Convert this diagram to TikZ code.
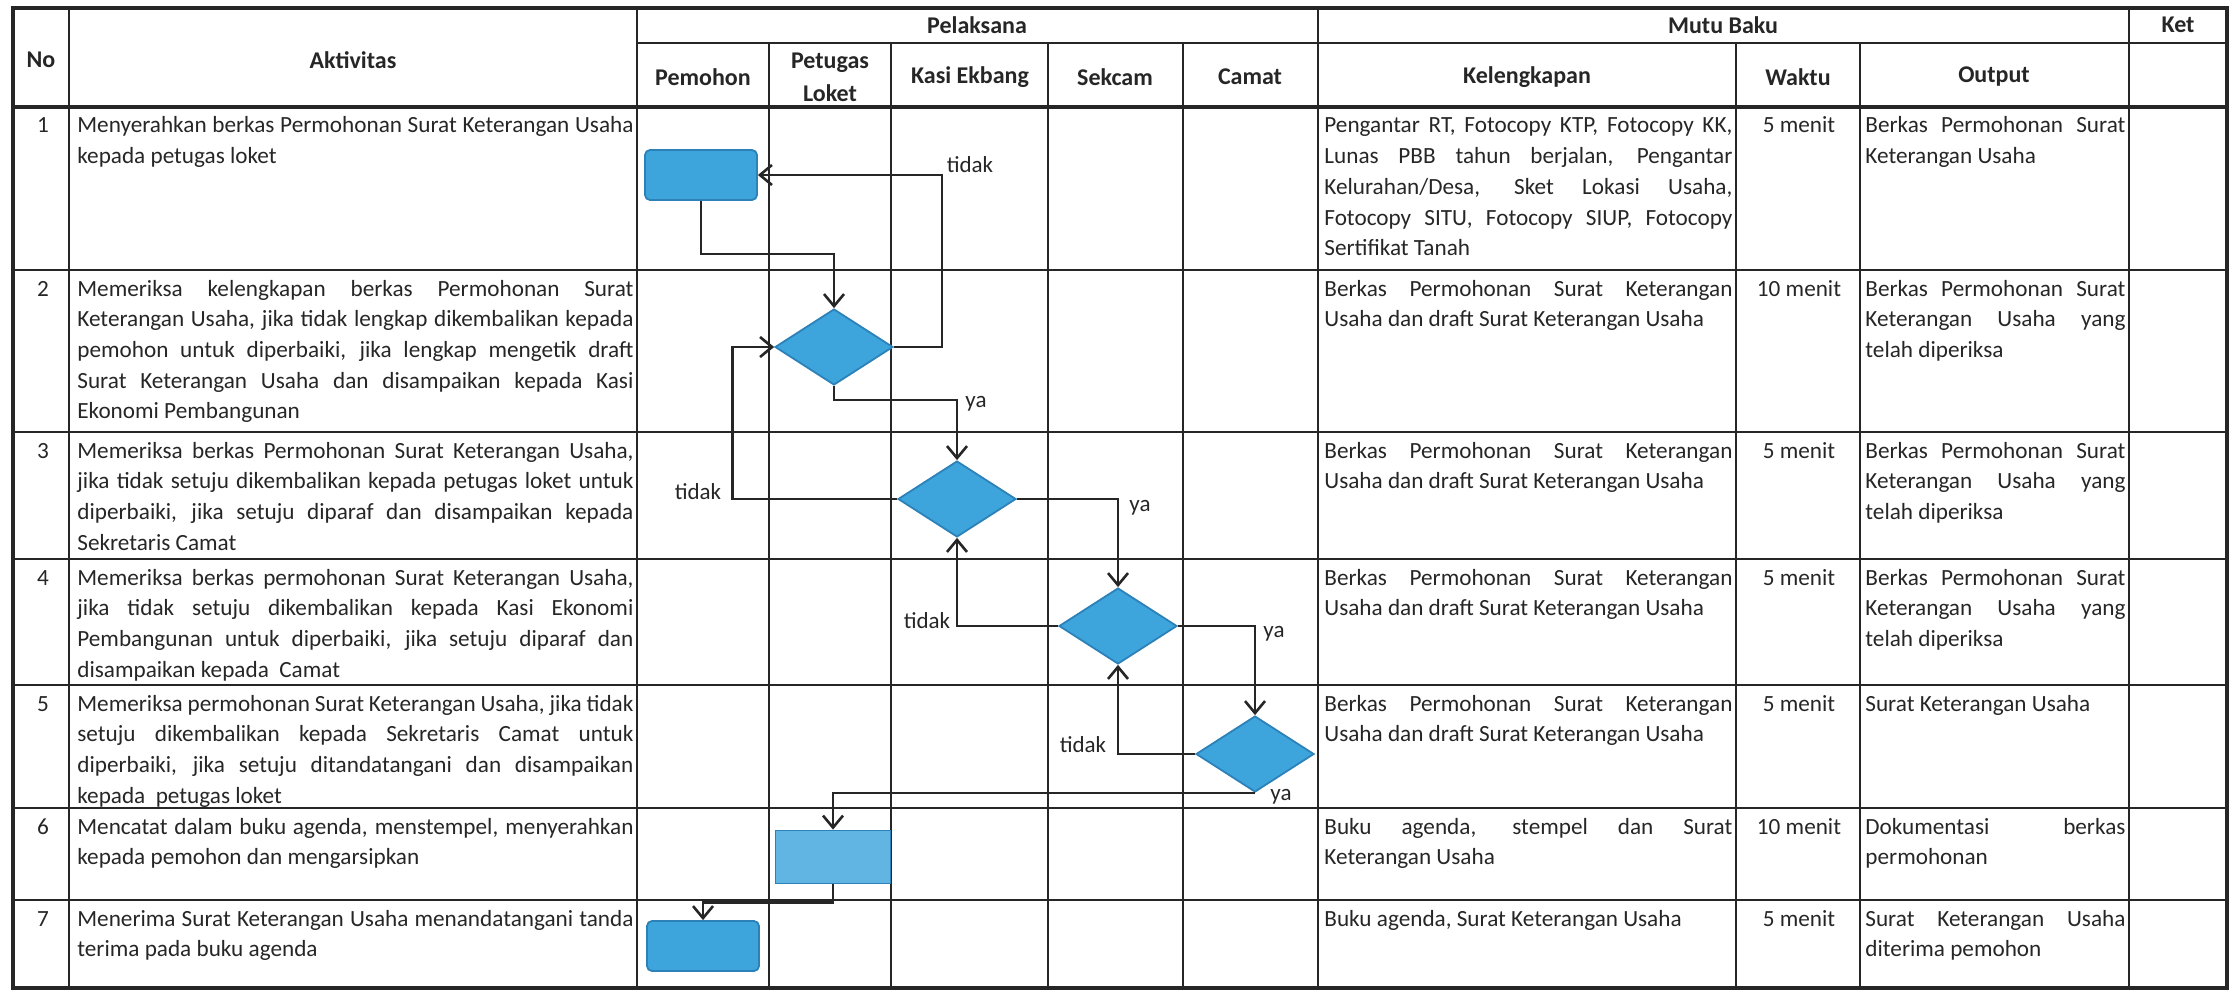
\documentclass[tikz,border=0pt]{standalone}
\usepackage{fontspec}
\setmainfont{Carlito}
\usetikzlibrary{shapes.geometric,arrows.meta}

\definecolor{flowblue}{HTML}{3DA5DC}
\definecolor{flowedge}{HTML}{2C82B8}
\definecolor{gridline}{HTML}{262626}

\tikzset{
  grid/.style={draw=gridline, line width=1.25pt},
  proc/.style={draw=flowedge, fill=flowblue, line width=0.9pt, inner sep=0pt,
    minimum width=56pt, minimum height=25pt, rounded corners=2.5pt},
  dec/.style={diamond, draw=flowedge, fill=flowblue, line width=0.9pt, inner sep=0pt,
    minimum width=59pt, minimum height=38pt},
  flow/.style={draw=gridline, line width=1.4pt},
  tip/.style={flow, -{Straight Barb[length=6pt,width=10pt,line width=1.3pt]}},
  lbl/.style={font=\fontsize{11.5}{14}\selectfont, text=gridline, inner sep=0pt},
  hdr/.style={font=\fontsize{12}{16.5}\selectfont\bfseries, align=center, text=gridline},
  cell/.style={anchor=base west, inner sep=0pt, align=justify, text=gridline,
    font=\fontsize{11.6}{15.35}\selectfont},
}

\begin{document}
\begin{tikzpicture}[x=0.5pt, y=-0.5pt]
\useasboundingbox (0,0) rectangle (2233,990);

    % tabel
    \foreach \x in {69,637,1318,2129}
        \draw[grid] (\x,8) -- (\x,988);
    \foreach \x in {769,891,1048,1183,1736,1860}
        \draw[grid] (\x,43) -- (\x,988);
    \draw[grid] (637,43) -- (2227,43);
    \foreach \y in {270,432,559,685,808,900}
        \draw[grid] (13,\y) -- (2227,\y);
    \draw[grid, line width=1.9pt] (13,107) -- (2227,107);
    \draw[grid, line width=1.9pt] (13,8) rectangle (2227,988);

    % kepala tabel
    \node[hdr] (hNo) at (41,60) {No};
    \node[hdr] (hAkt) at (353,60) {Aktivitas};
    \node[hdr] (hPel) at (977,25) {Pelaksana};
    \node[hdr] (hMutu) at (1723,25) {Mutu Baku};
    \node[hdr] (hKet) at (2178,25) {Ket};
    \node[hdr] (hPemohon) at (703,77) {Pemohon};
    \node[hdr] (hLoket) at (830,77) {Petugas\\Loket};
    \node[hdr] (hKasi) at (970,77) {Kasi Ekbang};
    \node[hdr] (hSekcam) at (1115,77) {Sekcam};
    \node[hdr] (hCamat) at (1250,77) {Camat};
    \node[hdr] (hKel) at (1527,77) {Kelengkapan};
    \node[hdr] (hWaktu) at (1798,77) {Waktu};
    \node[hdr] (hOutput) at (1994,77) {Output};

    % nomor dan waktu
    \foreach \n/\y/\w in {1/107/5 menit,2/270/10 menit,3/432/5 menit,4/559/5 menit,
                          5/685/5 menit,6/808/10 menit,7/900/5 menit} {
        \node[cell, anchor=base] (no\n) at (43,\y+26) {\n};
        \node[cell, anchor=base] (w\n) at (1799,\y+26) {\w};
    }

    % aktivitas
    \node[cell, text width=278pt] (a1) at (77,133) {Menyerahkan berkas Permohonan Surat Keterangan Usaha\linebreak kepada petugas loket};
    \node[cell, text width=278pt] (a2) at (77,296) {Memeriksa kelengkapan berkas Permohonan Surat\linebreak Keterangan Usaha, jika tidak lengkap dikembalikan kepada\linebreak pemohon untuk diperbaiki, jika lengkap mengetik draft\linebreak Surat Keterangan Usaha dan disampaikan kepada Kasi\linebreak Ekonomi Pembangunan};
    \node[cell, text width=278pt] (a3) at (77,458) {Memeriksa berkas Permohonan Surat Keterangan Usaha,\linebreak jika tidak setuju dikembalikan kepada petugas loket untuk\linebreak diperbaiki, jika setuju diparaf dan disampaikan kepada\linebreak Sekretaris Camat};
    \node[cell, text width=278pt] (a4) at (77,585) {Memeriksa berkas permohonan Surat Keterangan Usaha,\linebreak jika tidak setuju dikembalikan kepada Kasi Ekonomi\linebreak Pembangunan untuk diperbaiki, jika setuju diparaf dan\linebreak disampaikan kepada\ \ Camat};
    \node[cell, text width=278pt] (a5) at (77,711) {Memeriksa permohonan Surat Keterangan Usaha, jika tidak\linebreak setuju dikembalikan kepada Sekretaris Camat untuk\linebreak diperbaiki, jika setuju ditandatangani dan disampaikan\linebreak kepada\ \ petugas loket};
    \node[cell, text width=278pt] (a6) at (77,834) {Mencatat dalam buku agenda, menstempel, menyerahkan\linebreak kepada pemohon dan mengarsipkan};
    \node[cell, text width=278pt] (a7) at (77,926) {Menerima Surat Keterangan Usaha menandatangani tanda\linebreak terima pada buku agenda};

    % kelengkapan
    \node[cell, text width=204pt] (k1) at (1324,133) {Pengantar RT, Fotocopy KTP, Fotocopy KK,\linebreak Lunas PBB tahun berjalan, Pengantar\linebreak Kelurahan/Desa, Sket Lokasi Usaha,\linebreak Fotocopy SITU, Fotocopy SIUP, Fotocopy\linebreak Sertifikat Tanah};
    \node[cell, text width=204pt] (k2) at (1324,296) {Berkas Permohonan Surat Keterangan\linebreak Usaha dan draft Surat Keterangan Usaha};
    \node[cell, text width=204pt] (k3) at (1324,458) {Berkas Permohonan Surat Keterangan\linebreak Usaha dan draft Surat Keterangan Usaha};
    \node[cell, text width=204pt] (k4) at (1324,585) {Berkas Permohonan Surat Keterangan\linebreak Usaha dan draft Surat Keterangan Usaha};
    \node[cell, text width=204pt] (k5) at (1324,711) {Berkas Permohonan Surat Keterangan\linebreak Usaha dan draft Surat Keterangan Usaha};
    \node[cell, text width=204pt] (k6) at (1324,834) {Buku agenda, stempel dan Surat\linebreak Keterangan Usaha};
    \node[cell, text width=204pt] (k7) at (1324,926) {Buku agenda, Surat Keterangan Usaha};

    % output
    \node[cell, text width=130pt] (o1) at (1865,133) {Berkas Permohonan Surat\linebreak Keterangan Usaha};
    \node[cell, text width=130pt] (o2) at (1865,296) {Berkas Permohonan Surat\linebreak Keterangan Usaha yang\linebreak telah diperiksa};
    \node[cell, text width=130pt] (o3) at (1865,458) {Berkas Permohonan Surat\linebreak Keterangan Usaha yang\linebreak telah diperiksa};
    \node[cell, text width=130pt] (o4) at (1865,585) {Berkas Permohonan Surat\linebreak Keterangan Usaha yang\linebreak telah diperiksa};
    \node[cell, text width=130pt] (o5) at (1865,711) {Surat Keterangan Usaha};
    \node[cell, text width=130pt] (o6) at (1865,834) {Dokumentasi berkas\linebreak permohonan};
    \node[cell, text width=130pt] (o7) at (1865,926) {Surat Keterangan Usaha\linebreak diterima pemohon};

    % bagan alir
    \node[proc] (b1) at (701,175) {};
    \node[dec] (d2) at (834,347) {};
    \node[dec] (d3) at (957,499) {};
    \node[dec] (d4) at (1118,626) {};
    \node[dec] (d5) at (1255,754) {};
    \node[proc, rounded corners=0pt, fill=flowblue!82!white, minimum width=57.5pt, minimum height=26.5pt] (b6) at (833,857) {};
    \node[proc] (b7) at (703,946) {};

    \draw[tip] (b1.south) -- ++(0,53) -| (d2.north);
    \draw[tip] (d2.east) -- ++(48,0) |- (b1.east);
    \draw[tip] (d2.south) -- ++(0,14) -| (d3.north);
    \draw[tip] (d3.west) -| ([xshift=-21pt]d2.west) -- (d2.west);
    \draw[tip] (d3.east) -| (d4.north);
    \draw[tip] (d4.west) -| (d3.south);
    \draw[tip] (d4.east) -| (d5.north);
    \draw[tip] (d5.west) -| (d4.south);
    \draw[tip] (d5.south) -| (b6.north);
    \draw[tip] (b6.south) -- ++(0,18) -| (b7.north);

    \node[lbl] (t2) at (970,165) {tidak};
    \node[lbl] (y2) at (976,404) {ya};
    \node[lbl] (t3) at (698,492) {tidak};
    \node[lbl] (y3) at (1140,508) {ya};
    \node[lbl] (t4) at (927,621) {tidak};
    \node[lbl] (y4) at (1274,634) {ya};
    \node[lbl] (t5) at (1083,745) {tidak};
    \node[lbl] (y5) at (1281,797) {ya};
\end{tikzpicture}
\end{document}
